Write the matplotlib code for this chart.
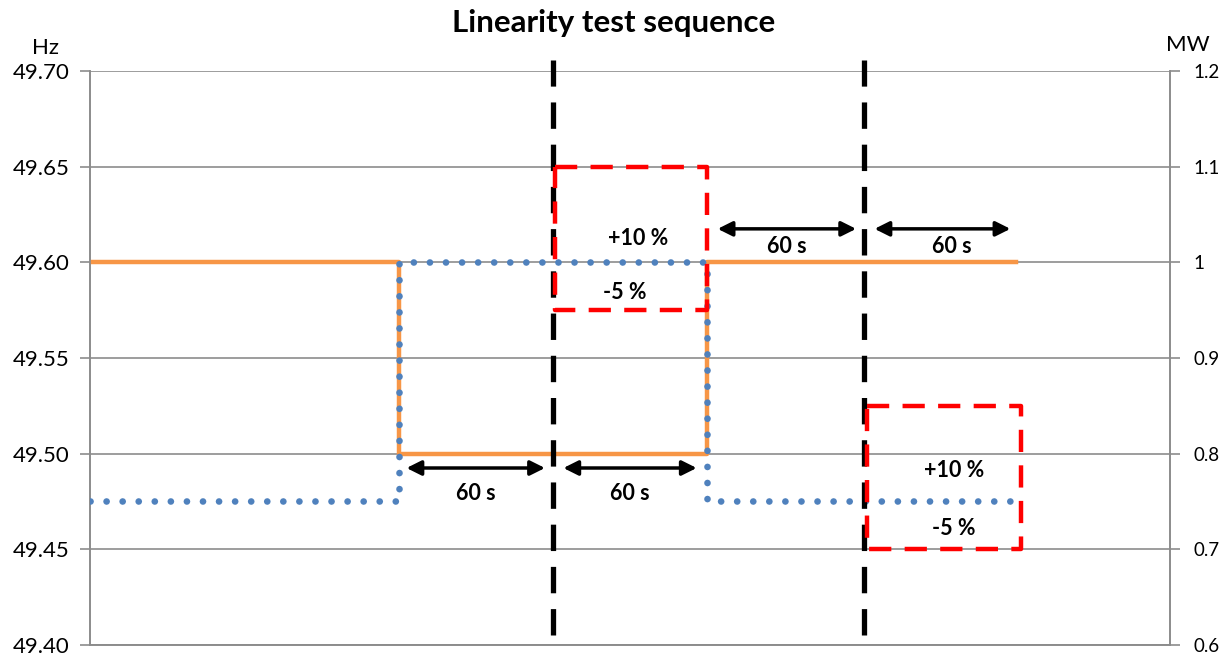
import matplotlib.pyplot as plt

# step sequence (time in s)
t_steps = [0, 120, 240, 360]
freq_hz = [49.60, 49.50, 49.60, 49.60]
power_mw = [0.75, 1.00, 0.75, 0.75]

# vertical markers and tolerance boxes
t_marks = [180, 301]
boxes = [(181, 240, 0.95, 1.10), (302, 362, 0.70, 0.85)]
box_labels = [("+10 %", "-5 %"), ("+10 %", "-5 %")]
# label positions inside the boxes: (t, MW)
upper_pos = [(213, 1.025), (336, 0.782)]
lower_pos = [(208, 0.968), (336, 0.722)]

# 60 s arrows: (t_start, t_end, MW level)
arrows = [(122, 178, 0.785), (183, 237, 0.785),
          (243, 299, 1.035), (304, 359, 1.035)]
arrow_text_pos = [(150, 0.758), (210, 0.758), (271, 1.017), (335, 1.017)]
arrow_text = "60 s"

hz_ticks = [49.40, 49.45, 49.50, 49.55, 49.60, 49.65, 49.70]
mw_ticks = [0.6, 0.7, 0.8, 0.9, 1.0, 1.1, 1.2]
mw_labels = ["0.6", "0.7", "0.8", "0.9", "1", "1.1", "1.2"]

plt.rcParams['font.family'] = ['Lato', 'DejaVu Sans']

fig = plt.figure(figsize=(12.28, 6.55), dpi=100)
ax = fig.add_axes([0.0733, 0.0153, 0.8795, 0.8763])
ax2 = ax.twinx()

ax.set_xlim(0, 420)
ax.set_ylim(49.40, 49.70)
ax2.set_ylim(0.6, 1.2)

grey = "#8c8c8c"
ax.set_yticks(hz_ticks)
ax.set_yticklabels([f"{v:.2f}" for v in hz_ticks], fontsize=16)
ax2.set_yticks(mw_ticks)
ax2.set_yticklabels(mw_labels, fontsize=13.5)
ax.set_xticks([])
ax.grid(axis="y", color=grey, lw=1.2)
ax.tick_params(axis="y", length=7, color=grey, width=1.2, pad=8)
ax2.tick_params(axis="y", length=7, color=grey, width=1.2, pad=10)
for a in (ax, ax2):
    a.spines["top"].set_visible(False)
    for s in ("left", "right", "bottom"):
        a.spines[s].set_color(grey)
        a.spines[s].set_linewidth(1.2)

# frequency (orange) and power (blue dotted)
ax.step(t_steps, freq_hz, where="post", color="#F79646", lw=3.2, zorder=3)
ax2.step(t_steps, power_mw, where="post", color="#4F81BD", lw=4.8,
         linestyle=(0, (0.01, 2.4)), dash_capstyle="round", zorder=4)

# black dashed markers
for t in t_marks:
    ax2.plot([t, t], [0.61, 1.212], color="black", lw=3.8,
             linestyle=(0, (5, 3)), clip_on=False, zorder=5)

# red tolerance boxes
for (x0, x1, y0, y1), (up, dn), pu, pl in zip(boxes, box_labels,
                                               upper_pos, lower_pos):
    ax2.plot([x0, x1, x1, x0, x0], [y1, y1, y0, y0, y1], color="red", lw=3.2,
             linestyle=(0, (5, 3)), zorder=6)
    ax2.text(pu[0], pu[1], up, ha="center", va="center",
             fontsize=15.5, fontweight="bold")
    ax2.text(pl[0], pl[1], dn, ha="center", va="center",
             fontsize=15.5, fontweight="bold")

for (x0, x1, y), (tx, ty) in zip(arrows, arrow_text_pos):
    ax2.annotate("", xy=(x0, y), xytext=(x1, y),
                 arrowprops=dict(arrowstyle="<|-|>", color="black", lw=2.5,
                                 mutation_scale=22))
    ax2.text(tx, ty, arrow_text, ha="center", va="center",
             fontsize=15.5, fontweight="bold")

fig.text(0.5, 0.965, "Linearity test sequence", ha="center", va="center",
         fontsize=22.5, fontweight="bold")
fig.text(0.037, 0.927, "Hz", ha="center", va="center", fontsize=16)
fig.text(0.967, 0.931, "MW", ha="center", va="center", fontsize=16)

fig.savefig("out.png", dpi=100)
